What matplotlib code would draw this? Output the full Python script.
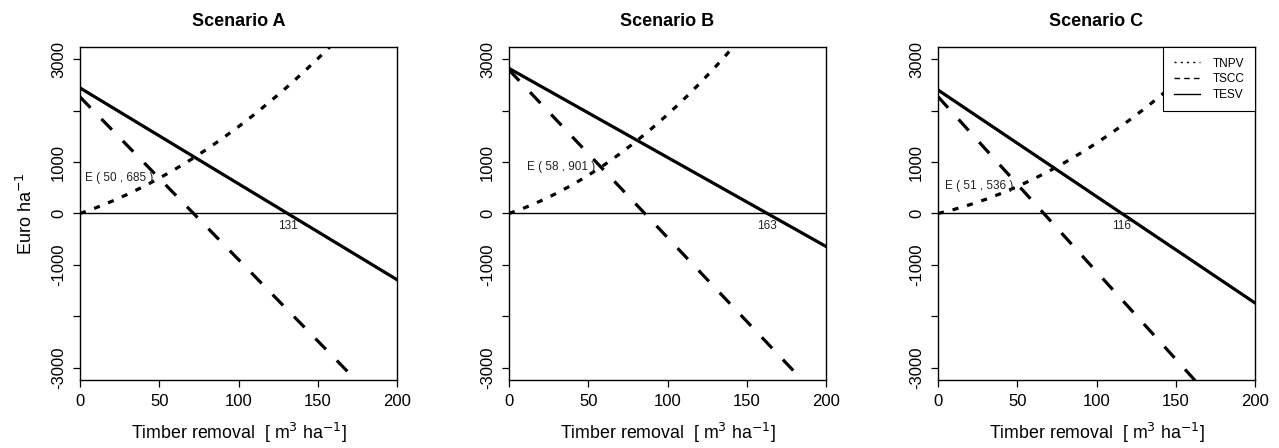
import matplotlib.pyplot as plt
from matplotlib.lines import Line2D

plt.rcParams['font.family'] = ['Liberation Sans', 'DejaVu Sans']

# --- data ---
scenarios = ["Scenario A", "Scenario B", "Scenario C"]

x_curve = [0, 10, 20, 30, 40, 50, 60, 70, 80, 90, 100, 110, 120, 130, 140, 150, 160, 170, 180, 190, 200]
tnpv_a = [0, 111, 236, 373, 522, 686, 860, 1048, 1248, 1462, 1687, 1925, 2177, 2440, 2717, 3007, 3308, 3622, 3949, 4290, 4642]
tnpv_b = [0, 113, 244, 392, 558, 742, 942, 1161, 1397, 1651, 1922, 2210, 2517, 2841, 3183, 3542, 3918, 4313, 4724, 5153, 5600]
tnpv_c = [0, 78, 170, 274, 392, 523, 666, 822, 991, 1173, 1368, 1576, 1797, 2030, 2277, 2538, 2810, 3096, 3394, 3706, 4030]

x_line = [0, 50, 100, 150, 200]
tscc_a = [2264, 684, -896, -2476, -4056]
tscc_b = [2790, 1162, -467, -2096, -3724]
tscc_c = [2270, 570, -1130, -2830, -4530]
tesv_a = [2440, 1509, 577, -354, -1286]
tesv_b = [2820, 1955, 1090, 225, -640]
tesv_c = [2400, 1366, 331, -703, -1738]

# equilibrium point E (TNPV = TSCC) and TESV zero crossing
e_x = [50, 58, 51]
e_y = [685, 901, 536]
zero_x = [131, 163, 116]

tnpv = [tnpv_a, tnpv_b, tnpv_c]
tscc = [tscc_a, tscc_b, tscc_c]
tesv = [tesv_a, tesv_b, tesv_c]

# --- plot ---
fig = plt.figure(figsize=(12.79, 4.48), dpi=100)
lefts = [80 / 1279, 509 / 1279, 938 / 1279]
w = 317 / 1279
bottom = 68 / 448
h = 333 / 448

dot_style = (0, (1.9, 2.8))
dash_style = (0, (4.7, 4.9))
lw = 2.3

for i, name in enumerate(scenarios):
    ax = fig.add_axes([lefts[i], bottom, w, h])
    ax.axhline(0, color='black', lw=1.0)
    ax.plot(x_curve, tnpv[i], color='black', lw=lw, linestyle=dot_style)
    ax.plot(x_line, tscc[i], color='black', lw=lw, linestyle=dash_style)
    ax.plot(x_line, tesv[i], color='black', lw=lw, linestyle='-')

    ax.annotate(f"E ( {e_x[i]} , {e_y[i]} )", (e_x[i], e_y[i]), xytext=(-4, 0),
                textcoords='offset points', ha='right', va='center', fontsize=8.5, color='#222222')
    ax.annotate(f"{zero_x[i]}", (zero_x[i], 0), xytext=(0, -5),
                textcoords='offset points', ha='center', va='top', fontsize=8.5, color='#222222')

    ax.set_xlim(0, 200)
    ax.set_ylim(-3235, 3235)
    ax.set_xticks([0, 50, 100, 150, 200])
    ax.set_yticks([-3000, -2000, -1000, 0, 1000, 2000, 3000])
    ax.set_yticklabels(["-3000", "", "-1000", "0", "1000", "", "3000"], rotation=90, va='center')
    ax.tick_params(axis='both', direction='out', length=5, width=0.9, labelsize=12, pad=5)
    for s in ax.spines.values():
        s.set_linewidth(1.0)

    ax.set_title(name, fontsize=13, fontweight='bold', pad=15)
    ax.set_xlabel("Timber removal  [ m$^3$ ha$^{-1}$]", fontsize=12.8, labelpad=9)
    if i == 0:
        ax.set_ylabel("Euro ha$^{-1}$", fontsize=13, labelpad=11)

    if i == 2:
        handles = [Line2D([], [], color='black', lw=1, linestyle=(0, (1.5, 3))),
                   Line2D([], [], color='black', lw=1, linestyle=(0, (4, 3))),
                   Line2D([], [], color='black', lw=1, linestyle='-')]
        leg = ax.legend(handles, ["TNPV", "TSCC", "TESV"], loc='upper right', fontsize=8.5,
                        frameon=True, fancybox=False, edgecolor='black', framealpha=1,
                        borderaxespad=0, handlelength=2.2, handletextpad=1.1,
                        labelspacing=0.3, borderpad=0.9)
        leg.get_frame().set_linewidth(0.8)

fig.savefig("out.png", dpi=100)
